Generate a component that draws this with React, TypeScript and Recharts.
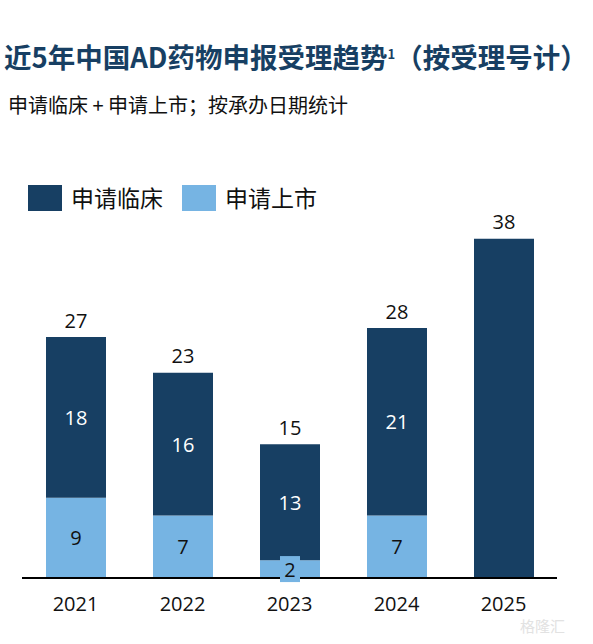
import React from "react";
import { BarChart, Bar, XAxis, YAxis, LabelList } from "recharts";

const years = ["2021", "2022", "2023", "2024", "2025"];
const clinical = [18, 16, 13, 21, 38];
const market = [9, 7, 2, 7, 0];
const totals = [27, 23, 15, 28, 38];

const DARK = "#173f63";
const LIGHT = "#76b4e3";
const FONT = "'Noto Sans CJK SC', 'Noto Sans', sans-serif";
const NUMFONT = "'Open Sans', 'Noto Sans', sans-serif";

const data = years.map((y, i) => ({
  year: y,
  clinical: clinical[i],
  market: market[i],
  total: totals[i],
}));

const MarketLabel = (props: any) => {
  const { x, y, width, height, value } = props;
  if (!value) return null;
  const cx = x + width / 2;
  const cy = y + height / 2;
  const small = height < 24;
  return (
    <g>
      {small && <rect x={cx - 10} y={cy - 13} width={20} height={26} fill={LIGHT} />}
      <text x={cx} y={cy} textAnchor="middle" dominantBaseline="central" fill="#111" fontSize={20} fontFamily={NUMFONT}>
        {value}
      </text>
    </g>
  );
};

const ClinicalLabel = (props: any) => {
  const { x, y, width, height, value } = props;
  if (!value || value === 38) return null;
  return (
    <text x={x + width / 2} y={y + height / 2} textAnchor="middle" dominantBaseline="central" fill="#fff" fontSize={20} fontFamily={NUMFONT}>
      {value}
    </text>
  );
};

const TotalLabel = (props: any) => {
  const { x, y, width, index } = props;
  return (
    <text x={x + width / 2} y={y - 17} textAnchor="middle" dominantBaseline="central" fill="#111" fontSize={20} fontFamily={NUMFONT}>
      {totals[index]}
    </text>
  );
};

export default function App() {
  return (
    <div style={{ position: "absolute", left: 0, top: 0, width: 593, height: 644, background: "#fff", fontFamily: FONT }}>
      <div style={{ position: "absolute", left: 4, top: 34, fontSize: 27.5, fontWeight: 700, color: DARK, whiteSpace: "nowrap", lineHeight: "40px" }}>
        近5年中国AD药物申报受理趋势<span style={{ fontSize: 13, verticalAlign: "9px" }}>1</span>（按受理号计）
      </div>
      <div style={{ position: "absolute", left: 8, top: 90, fontSize: 20, color: "#111", whiteSpace: "nowrap", lineHeight: "30px" }}>
        申请临床 + 申请上市；按承办日期统计
      </div>
      <div style={{ position: "absolute", left: 28, top: 185, width: 34, height: 26, background: DARK }} />
      <div style={{ position: "absolute", left: 71, top: 180, fontSize: 23, color: "#111", lineHeight: "34px", whiteSpace: "nowrap" }}>申请临床</div>
      <div style={{ position: "absolute", left: 182, top: 185, width: 34, height: 26, background: LIGHT }} />
      <div style={{ position: "absolute", left: 225, top: 180, fontSize: 23, color: "#111", lineHeight: "34px", whiteSpace: "nowrap" }}>申请上市</div>
      <div style={{ position: "absolute", left: 520, top: 615, fontSize: 15, color: "#e2e2e2", whiteSpace: "nowrap" }}>格隆汇</div>
      <div style={{ position: "absolute", left: 0, top: 0 }}>
        <BarChart width={593} height={644} data={data} margin={{ top: 221, right: 36, left: 22, bottom: 36 }} barCategoryGap={47}>
          <YAxis hide domain={[0, 40]} />
          <XAxis
            dataKey="year"
            axisLine={{ stroke: "#000", strokeWidth: 2 }}
            tickLine={false}
            tick={{ fill: "#111", fontSize: 20, fontFamily: NUMFONT }}
            tickMargin={13}
          />
          <Bar dataKey="market" stackId="a" fill={LIGHT} barSize={60} isAnimationActive={false}>
            <LabelList dataKey="market" content={MarketLabel} />
          </Bar>
          <Bar dataKey="clinical" stackId="a" fill={DARK} barSize={60} isAnimationActive={false}>
            <LabelList dataKey="clinical" content={ClinicalLabel} />
            <LabelList dataKey="total" content={TotalLabel} />
          </Bar>
        </BarChart>
      </div>
    </div>
  );
}
